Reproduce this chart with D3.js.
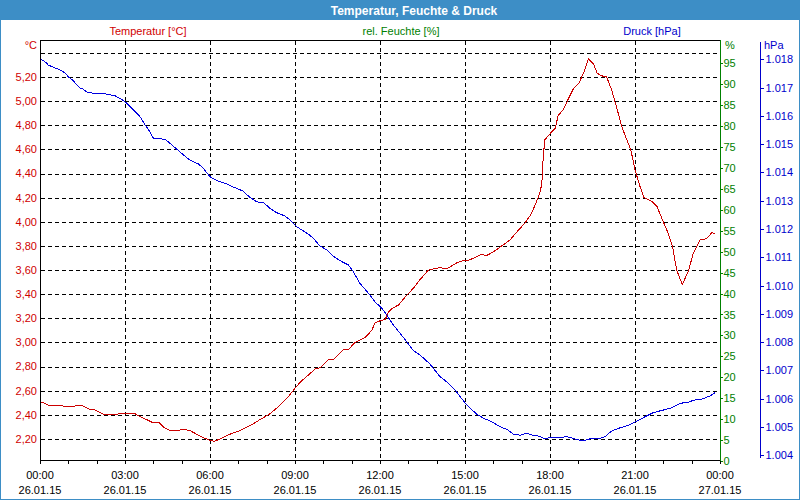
<!DOCTYPE html>
<html><head><meta charset="utf-8">
<script src="https://cdn.jsdelivr.net/npm/d3@7"></script>
<style>html,body{margin:0;padding:0;background:#fff;}svg{display:block;}</style>
</head><body>
<svg id="c" width="800" height="500"></svg>
<script>
// ---- data (hours after 26.01.15 00:00) ----
const tempHours = [0,0.12,0.29,0.59,0.94,1.12,1.47,1.70,1.94,2.12,2.29,2.59,2.82,3.06,3.35,3.53,3.77,3.94,4.18,4.35,4.59,4.82,5.06,5.29,5.53,5.76,6.0,6.14,6.35,6.71,7.06,7.41,7.76,8.12,8.47,8.76,9.0,9.18,9.47,9.71,9.88,10.18,10.35,10.71,10.88,11.12,11.47,11.71,11.82,12.0,12.18,12.29,12.41,12.65,12.94,13.18,13.41,13.71,13.88,14.12,14.35,14.71,14.94,15.12,15.41,15.59,15.76,16.0,16.24,16.59,16.88,17.12,17.35,17.53,17.67,17.73,17.76,17.82,18.0,18.18,18.29,18.47,18.65,18.82,19.02,19.18,19.35,19.53,19.67,19.82,20.0,20.18,20.35,20.53,20.71,20.85,21.0,21.18,21.32,21.59,21.77,22.0,22.18,22.33,22.47,22.67,22.88,23.06,23.29,23.53,23.71,23.82];
const tempValues = [2.50,2.50,2.48,2.48,2.47,2.47,2.48,2.45,2.44,2.42,2.40,2.40,2.41,2.41,2.41,2.385,2.36,2.34,2.34,2.30,2.27,2.27,2.28,2.27,2.24,2.21,2.19,2.18,2.20,2.24,2.27,2.31,2.36,2.41,2.48,2.55,2.62,2.67,2.73,2.78,2.79,2.86,2.855,2.94,2.94,3.00,3.04,3.10,3.16,3.18,3.19,3.25,3.28,3.31,3.39,3.45,3.52,3.60,3.61,3.62,3.61,3.66,3.68,3.68,3.71,3.73,3.72,3.75,3.79,3.85,3.93,3.99,4.07,4.17,4.26,4.37,4.54,4.68,4.73,4.775,4.88,4.93,5.02,5.10,5.15,5.23,5.35,5.31,5.23,5.21,5.20,5.09,4.95,4.79,4.68,4.60,4.43,4.29,4.20,4.17,4.13,4.00,3.90,3.79,3.60,3.48,3.59,3.74,3.85,3.86,3.91,3.90];

const pressHours = [0,0.10,0.24,0.29,0.47,0.71,0.88,1.0,1.18,1.30,1.41,1.53,1.68,1.94,2.12,2.35,2.65,2.82,3.0,3.24,3.53,3.71,3.88,4.0,4.24,4.41,4.59,4.82,5.06,5.29,5.59,5.76,6.0,6.24,6.59,6.88,7.15,7.41,7.65,7.88,8.12,8.35,8.65,8.82,9.06,9.47,9.65,9.88,10.12,10.35,10.59,10.88,11.06,11.29,11.59,11.82,12.06,12.24,12.47,12.71,12.94,13.18,13.41,13.76,14.12,14.35,14.65,14.94,15.12,15.41,15.65,15.88,16.24,16.47,16.71,16.94,17.18,17.35,17.59,17.82,18.06,18.29,18.59,18.88,19.15,19.41,19.71,19.94,20.18,20.47,20.76,21.06,21.35,21.65,22.0,22.29,22.59,22.88,23.06,23.35,23.65,23.82];
const pressValues = [1018.00,1017.97,1017.86,1017.80,1017.72,1017.62,1017.52,1017.38,1017.24,1017.09,1016.99,1016.94,1016.82,1016.80,1016.80,1016.77,1016.71,1016.62,1016.50,1016.27,1015.97,1015.68,1015.44,1015.21,1015.19,1015.17,1015.03,1014.83,1014.62,1014.44,1014.30,1014.15,1013.85,1013.71,1013.59,1013.46,1013.35,1013.12,1012.96,1012.94,1012.73,1012.58,1012.46,1012.32,1012.08,1011.82,1011.67,1011.40,1011.26,1011.04,1010.88,1010.73,1010.49,1010.08,1009.73,1009.43,1009.20,1008.96,1008.61,1008.31,1008.02,1007.70,1007.55,1007.23,1006.78,1006.60,1006.31,1005.93,1005.72,1005.46,1005.31,1005.22,1005.01,1004.92,1004.75,1004.71,1004.78,1004.72,1004.68,1004.59,1004.64,1004.61,1004.66,1004.58,1004.51,1004.58,1004.58,1004.66,1004.86,1004.97,1005.06,1005.21,1005.36,1005.51,1005.60,1005.68,1005.84,1005.87,1005.95,1005.98,1006.10,1006.21];

const tempTicks = [2.2,2.4,2.6,2.8,3.0,3.2,3.4,3.6,3.8,4.0,4.2,4.4,4.6,4.8,5.0,5.2];
const tempGrid = [2.2,2.4,2.6,2.8,3.0,3.2,3.4,3.6,3.8,4.0,4.2,4.4,4.6,4.8,5.0,5.2,5.4];
const humTicks = [0,5,10,15,20,25,30,35,40,45,50,55,60,65,70,75,80,85,90,95];
const pressTicks = [1004,1005,1006,1007,1008,1009,1010,1011,1012,1013,1014,1015,1016,1017,1018];
const timeTickHours = [0,3,6,9,12,15,18,21,24];
const seriesLabels = ["Temperatur [°C]", "rel. Feuchte [%]", "Druck [hPa]"];
const titleText = "Temperatur, Feuchte & Druck";

// ---- setup ----
const svg = d3.select("#c");
const FONT = "'Liberation Sans', Arial, sans-serif";
const RED = "#d00000", GREEN = "#008000", BLUE = "#0000cc", FRAME = "#3d8ec6";
const de = d3.formatLocale({decimal: ",", thousands: ".", grouping: [3], currency: ["", "€"]});
const fT = de.format(".2f"), fP = de.format(",.0f");
const t0 = new Date(2015, 0, 26, 0, 0);
const toDate = h => new Date(t0.getTime() + h * 3600e3);

const L = 40, R = 720, T = 40, B = 460;
const x = d3.scaleTime().domain([t0, toDate(24)]).range([L, R]);
const yT = d3.scaleLinear().domain([2.2, 5.2]).range([439, 77]);
const yH = d3.scaleLinear().domain([0, 95]).range([461, 63.3]);
const yP = d3.scaleLinear().domain([1004, 1018]).range([455.3, 59.3]);
const px = v => Math.round(v) + 0.5;

// frame + title bar
svg.append("rect").attr("x", 0).attr("y", 0).attr("width", 800).attr("height", 20).attr("fill", FRAME);
svg.append("rect").attr("x", 0.5).attr("y", 0.5).attr("width", 799).attr("height", 499)
  .attr("fill", "none").attr("stroke", FRAME).attr("stroke-width", 1);
svg.append("text").attr("x", 414).attr("y", 14.5).attr("text-anchor", "middle")
  .attr("fill", "#fff").attr("font-family", FONT).attr("font-weight", "bold").attr("font-size", 12)
  .text(titleText);

// series labels
const lbl = svg.append("g").attr("font-family", FONT).attr("font-size", 11).attr("text-anchor", "middle");
lbl.append("text").attr("x", 148).attr("y", 35).attr("fill", RED).text(seriesLabels[0]);
lbl.append("text").attr("x", 401).attr("y", 35).attr("fill", GREEN).text(seriesLabels[1]);
lbl.append("text").attr("x", 652).attr("y", 35).attr("fill", BLUE).text(seriesLabels[2]);

// grid
const grid = svg.append("g").attr("stroke", "#000").attr("stroke-dasharray", "4,3")
  .attr("shape-rendering", "crispEdges");
grid.selectAll("line.h").data(tempGrid).join("line")
  .attr("x1", L + 1).attr("x2", R).attr("y1", d => px(yT(d))).attr("y2", d => px(yT(d)));
grid.selectAll("line.v").data(timeTickHours.slice(1, -1)).join("line")
  .attr("y1", T + 1).attr("y2", B).attr("x1", d => px(x(toDate(d)))).attr("x2", d => px(x(toDate(d))));

// lines
const lineT = d3.line().x((d, i) => x(toDate(tempHours[i]))).y(d => yT(d));
const lineP = d3.line().x((d, i) => x(toDate(pressHours[i]))).y(d => yP(d));
svg.append("path").attr("d", lineP(pressValues)).attr("fill", "none").attr("stroke", "#0000e0")
  .attr("stroke-width", 1).attr("shape-rendering", "crispEdges");
svg.append("path").attr("d", lineT(tempValues)).attr("fill", "none").attr("stroke", "#cc0000")
  .attr("stroke-width", 1).attr("shape-rendering", "crispEdges");

// plot frame lines
const fr = svg.append("g").attr("shape-rendering", "crispEdges");
fr.append("line").attr("x1", L).attr("x2", R).attr("y1", T + 0.5).attr("y2", T + 0.5).attr("stroke", "#000");
fr.append("line").attr("x1", L + 0.5).attr("x2", L + 0.5).attr("y1", T).attr("y2", B + 1).attr("stroke", "#000");

// x axis
const xAxis = d3.axisBottom(x)
  .tickValues(d3.range(0, 25, 1).map(toDate))
  .tickSize(3).tickFormat("");
const gx = svg.append("g").attr("transform", `translate(0,${B + 0.5})`).call(xAxis);
gx.select(".domain").attr("stroke", "#000").attr("d", `M${L},0H${R}`);
gx.selectAll(".tick line").attr("stroke", "#000").attr("shape-rendering", "crispEdges");
const fTime = d3.timeFormat("%H:%M"), fDate = d3.timeFormat("%d.%m.%y");
const xl = svg.append("g").attr("font-family", FONT).attr("font-size", 11).attr("text-anchor", "middle").attr("fill", "#000");
xl.selectAll("text.t").data(timeTickHours).join("text")
  .attr("x", d => x(toDate(d))).attr("y", 479).text(d => fTime(toDate(d)));
xl.selectAll("text.d").data(timeTickHours).join("text")
  .attr("x", d => x(toDate(d))).attr("y", 494).text(d => fDate(toDate(d)));

// left temperature axis labels
const gl = svg.append("g").attr("font-family", FONT).attr("font-size", 11).attr("fill", RED).attr("text-anchor", "end");
gl.selectAll("text").data(tempTicks).join("text")
  .attr("x", 37).attr("y", d => yT(d)).attr("dy", "0.35em").text(d => fT(d));
gl.append("text").attr("x", 37).attr("y", 49).text("°C");

// right humidity axis
const humAxis = d3.axisRight(yH).tickValues(humTicks).tickSize(2).tickPadding(1).tickFormat(d3.format("d"));
const gh = svg.append("g").attr("transform", `translate(${R + 0.5},0)`).call(humAxis);
gh.select(".domain").attr("stroke", GREEN).attr("d", `M0,${T}V${B + 1}`).attr("shape-rendering", "crispEdges");
gh.selectAll(".tick line").attr("stroke", GREEN).attr("shape-rendering", "crispEdges");
gh.selectAll(".tick text").attr("fill", GREEN).attr("font-family", FONT).attr("font-size", 11);
svg.append("text").attr("x", 725).attr("y", 49).attr("fill", GREEN).attr("font-family", FONT).attr("font-size", 11).text("%");

// right pressure axis
const pAxis = d3.axisRight(yP).tickValues(pressTicks).tickSize(3).tickPadding(2).tickFormat(d => fP(d));
const gp = svg.append("g").attr("transform", `translate(760.5,0)`).call(pAxis);
gp.select(".domain").attr("stroke", BLUE).attr("d", `M0,42V458`).attr("shape-rendering", "crispEdges");
gp.selectAll(".tick line").attr("stroke", BLUE).attr("shape-rendering", "crispEdges");
gp.selectAll(".tick text").attr("fill", BLUE).attr("font-family", FONT).attr("font-size", 11);
svg.append("text").attr("x", 764).attr("y", 49).attr("fill", BLUE).attr("font-family", FONT).attr("font-size", 11).text("hPa");
</script>
</body></html>
